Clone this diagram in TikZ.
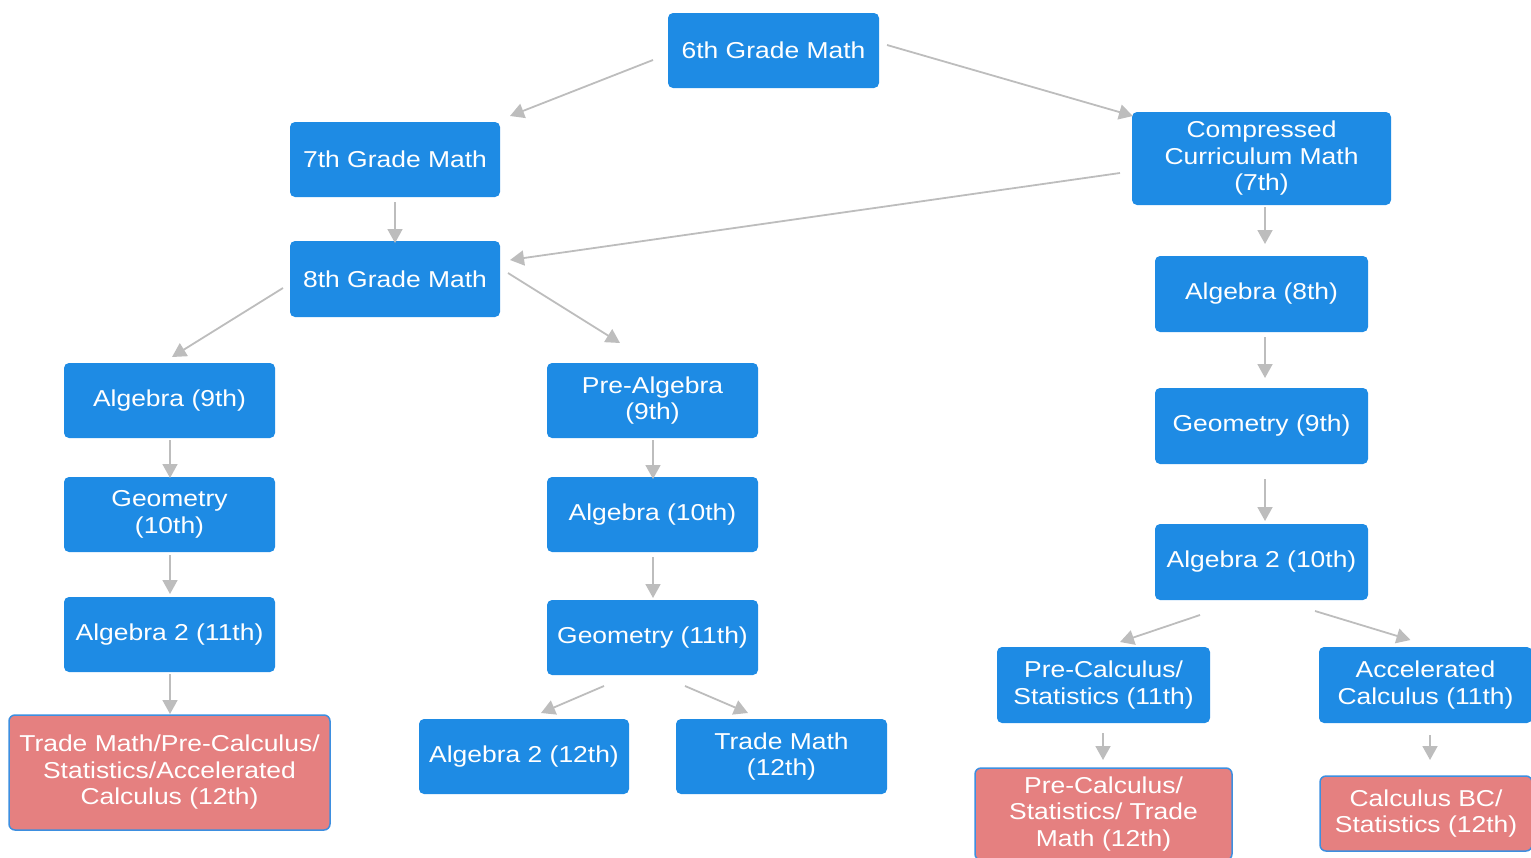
\documentclass[tikz,border=0pt]{standalone}
\usepackage{fontspec}
\setmainfont{Liberation Sans}[FakeStretch=1.15]
\usetikzlibrary{arrows.meta,calc}
\definecolor{boxblue}{HTML}{1E8BE4}
\definecolor{boxred}{HTML}{E58080}
\definecolor{edgeblue}{HTML}{3D8FE0}
\definecolor{arrgray}{HTML}{BDBDBD}
\tikzset{
  blk/.style={fill=boxblue, draw=none, rounded corners=5pt, text=white, align=center,
    inner sep=0pt, minimum width=#1, font=\fontsize{23}{26.5}\selectfont},
  blk/.default=211pt,
  redblk/.style={fill=boxred, draw=edgeblue, line width=1.5pt, rounded corners=6pt, text=white,
    align=center, inner sep=0pt, font=\fontsize{23}{26.5}\selectfont},
  conn/.style={draw=arrgray, line width=1.8pt, -{Triangle[length=14pt,width=15pt]}}
}
\newcommand{\arr}[4]{\draw[conn] ($(#1)+(#2)$) -- ($(#3)+(#4)$);}
\begin{document}
\begin{tikzpicture}[x=1pt,y=-1pt]
\useasboundingbox (0,0) rectangle (1531,857);
\node[blk, minimum height=75pt] (six) at (773.5,50.5) {6th Grade Math};
\node[blk=210pt, minimum height=75pt] (seven) at (395,159.5) {7th Grade Math};
\node[blk=259pt, minimum height=93pt] (comp) at (1261.5,158.5) {Compressed\\Curriculum Math\\(7th)};
\node[blk=210pt, minimum height=76pt] (eight) at (395,279) {8th Grade Math};
\node[blk=213pt, minimum height=76pt] (alg8) at (1261.5,294) {Algebra (8th)};
\node[blk, minimum height=75pt] (alg9) at (169.5,400.5) {Algebra (9th)};
\node[blk, minimum height=75pt] (pre) at (652.5,400.5) {Pre-Algebra\\(9th)};
\node[blk=213pt, minimum height=76pt] (geo9) at (1261.5,426) {Geometry (9th)};
\node[blk, minimum height=75pt] (geo10) at (169.5,514.5) {Geometry\\(10th)};
\node[blk, minimum height=75pt] (alg10) at (652.5,514.5) {Algebra (10th)};
\node[blk=213pt, minimum height=76pt] (alg210) at (1261.5,562) {Algebra 2 (10th)};
\node[blk, minimum height=75pt] (alg211) at (169.5,634.5) {Algebra 2 (11th)};
\node[blk, minimum height=75pt] (geo11) at (652.5,637.5) {Geometry (11th)};
\node[blk=213pt, minimum height=76pt] (pcs) at (1103.5,685) {Pre-Calculus/\\Statistics (11th)};
\node[blk=213pt, minimum height=76pt] (acc) at (1425.5,685) {Accelerated\\Calculus (11th)};
\node[redblk, minimum width=321pt, minimum height=115pt] (trd) at (169.5,772.5) {Trade Math/Pre-Calculus/\\Statistics/Accelerated\\Calculus (12th)};
\node[blk=210pt, minimum height=75pt] (a212) at (524,756.5) {Algebra 2 (12th)};
\node[blk, minimum height=75pt] (t12) at (781.5,756.5) {Trade Math\\(12th)};
\node[redblk, minimum width=257pt, minimum height=92pt] (pcs12) at (1103.5,814) {Pre-Calculus/\\Statistics/ Trade\\Math (12th)};
\node[redblk, minimum width=212pt, minimum height=75pt] (bc) at (1426,813.5) {Calculus BC/\\Statistics (12th)};
\arr{six}{-120.5,9.5}{seven}{115,-43.5}
\arr{six}{113.5,-5.5}{comp}{-128.5,-42.5}
\arr{seven}{0,42.5}{eight}{0,-36}
\arr{comp}{-141.5,14.5}{eight}{115,-19}
\arr{comp}{3.5,48.5}{alg8}{3.5,-50}
\arr{eight}{-112,9}{alg9}{2.5,-43.5}
\arr{eight}{113,-6}{pre}{-32.5,-57.5}
\arr{alg8}{3.5,43}{geo9}{3.5,-48}
\arr{geo9}{3.5,53}{alg210}{3.5,-41}
\arr{alg9}{0.5,39.5}{geo10}{0.5,-36.5}
\arr{geo10}{0.5,40.5}{alg211}{0.5,-40.5}
\arr{alg211}{0.5,39.5}{trd}{0.5,-58.5}
\arr{pre}{0.5,39.5}{alg10}{0.5,-35.5}
\arr{alg10}{0.5,42.5}{geo11}{0.5,-39.5}
\arr{geo11}{-48.5,48.5}{a212}{17,-43.5}
\arr{geo11}{32.5,48.5}{t12}{-33.5,-43.5}
\arr{alg210}{-61.5,53}{pcs}{16.5,-43}
\arr{alg210}{53.5,49}{acc}{-15,-45}
\arr{pcs}{-0.5,48}{pcs12}{-0.5,-54}
\arr{acc}{4.5,50}{bc}{4,-53.5}
\end{tikzpicture}
\end{document}
